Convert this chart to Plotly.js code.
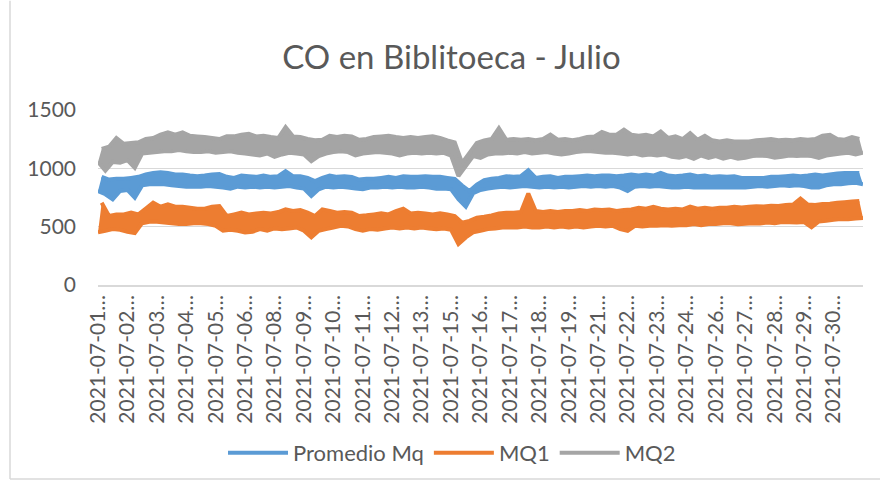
<!DOCTYPE html>
<html>
<head>
<meta charset="utf-8">
<script src="https://cdn.plot.ly/plotly-3.0.1.min.js"></script>
<style>html,body{margin:0;padding:0;background:#fff;}#chart{width:880px;height:485px;}</style>
</head>
<body>
<div id="chart"></div>
<script>
const chartTitle = 'CO en Biblitoeca - Julio';
const seriesNames = ['Promedio Mq', 'MQ1', 'MQ2'];
const tickLabels = ['2021-07-01…','2021-07-02…','2021-07-03…','2021-07-04…','2021-07-05…','2021-07-06…',
  '2021-07-08…','2021-07-09…','2021-07-10…','2021-07-11…','2021-07-12…','2021-07-13…','2021-07-15…',
  '2021-07-16…','2021-07-17…','2021-07-18…','2021-07-19…','2021-07-21…','2021-07-22…','2021-07-23…',
  '2021-07-24…','2021-07-26…','2021-07-27…','2021-07-28…','2021-07-29…','2021-07-30…'];
const pointsPerLabel = 8;
const yTicks = [0, 500, 1000, 1500];

// Readings in time order; consecutive values alternate between the low and high side of the noisy trace.
const promedioMq = [
 806,927, 778,904, 735,910, 806,910, 815,918, 749,927, 854,947, 863,961, 863,967, 863,961,
 854,947, 849,947, 843,938, 843,933, 843,938, 849,947, 843,952, 835,927, 826,918, 843,938,
 835,933, 843,927, 835,938, 843,927, 835,933, 843,975, 849,933, 835,933, 826,918, 763,890,
 820,918, 843,938, 835,927, 843,933, 835,927, 826,904, 820,910, 835,910, 835,918, 843,927,
 835,918, 843,933, 835,927, 835,927, 843,933, 835,927, 826,927, 826,918, 820,910, 735,853,
 672,805, 786,861, 815,898, 826,910, 835,918, 843,933, 835,927, 843,933, 849,984, 843,918,
 835,927, 843,933, 835,918, 843,927, 835,927, 843,933, 849,938, 843,933, 849,938, 843,938,
 849,933, 835,938, 806,947, 843,938, 849,947, 843,938, 849,961, 843,938, 835,933, 835,938,
 843,947, 835,933, 835,938, 835,927, 835,933, 835,927, 835,933, 835,918, 835,918, 843,918,
 849,918, 843,927, 849,927, 854,933, 849,938, 854,933, 849,938, 835,947, 835,938, 854,947,
 863,955, 863,961, 871,961, 877,961, 863];

const mq1 = [
 451,705, 465,591, 479,605, 473,605, 456,620, 445,605, 530,654, 542,705, 542,671, 536,691,
 530,671, 522,671, 522,662, 530,654, 530,654, 522,671, 507,677, 465,591, 473,605, 465,620,
 451,605, 456,614, 479,620, 465,614, 485,625, 479,648, 485,634, 493,642, 465,620, 408,591,
 465,648, 479,634, 493,620, 507,625, 502,620, 479,591, 465,597, 479,605, 473,614, 485,605,
 493,634, 485,654, 493,614, 485,620, 493,614, 485,605, 479,614, 485,605, 473,591, 351,534,
 408,549, 451,577, 465,586, 479,597, 485,614, 493,620, 493,620, 493,625, 502,785, 493,634,
 493,625, 502,634, 493,625, 502,634, 493,634, 502,642, 493,634, 502,648, 507,642, 502,648,
 507,634, 479,642, 465,648, 507,662, 502,654, 507,671, 507,654, 513,648, 507,654, 513,648,
 513,671, 522,654, 513,662, 522,654, 522,662, 530,662, 530,671, 520,665, 525,670, 530,675,
 527,673, 535,680, 530,677, 540,685, 537,690, 535,740, 540,690, 495,685, 545,695, 550,697,
 560,705, 565,710, 563,715, 570,720, 575];

const mq2 = [
 1054,1166, 980,1185, 1055,1260, 1048,1211, 1071,1217, 1005,1223, 1127,1251, 1133,1260, 1139,1288, 1147,1308,
 1147,1288, 1156,1308, 1147,1279, 1139,1274, 1139,1268, 1147,1260, 1133,1251, 1139,1274, 1147,1274, 1133,1288,
 1127,1297, 1119,1274, 1110,1279, 1127,1268, 1099,1260, 1119,1353, 1133,1274, 1127,1268, 1119,1251, 1062,1240,
 1105,1245, 1127,1279, 1139,1268, 1147,1279, 1139,1274, 1110,1245, 1127,1251, 1133,1268, 1139,1274, 1133,1279,
 1127,1268, 1110,1260, 1127,1268, 1133,1260, 1127,1268, 1133,1274, 1127,1260, 1133,1240, 1110,1223, 934,1046,
 1019,1132, 1105,1217, 1090,1240, 1119,1251, 1127,1345, 1127,1245, 1133,1251, 1127,1245, 1139,1251, 1127,1240,
 1133,1251, 1139,1288, 1127,1245, 1119,1251, 1127,1240, 1139,1251, 1147,1268, 1147,1274, 1139,1311, 1133,1288,
 1133,1288, 1127,1331, 1119,1288, 1127,1279, 1110,1288, 1119,1274, 1110,1316, 1119,1260, 1099,1274, 1090,1251,
 1105,1302, 1082,1245, 1110,1279, 1090,1240, 1105,1231, 1082,1240, 1099,1231, 1082,1231, 1090,1231, 1105,1240,
 1110,1245, 1105,1251, 1090,1240, 1099,1245, 1110,1240, 1105,1251, 1110,1245, 1105,1251, 1090,1279, 1110,1288,
 1119,1251, 1127,1245, 1133,1268, 1119,1251, 1133];

const colors = ['#5B9BD5', '#ED7D31', '#A5A5A5'];
const allSeries = [promedioMq, mq1, mq2];
const xIdx = promedioMq.map((_, i) => i);

// Each series is drawn as its noise band: the high-side readings and the low-side readings, filled between.
const traces = [];
allSeries.forEach((vals, k) => {
  const hiX = xIdx.filter(i => i % 2 === 1), hiY = vals.filter((_, i) => i % 2 === 1);
  const loX = xIdx.filter(i => i % 2 === 0), loY = vals.filter((_, i) => i % 2 === 0);
  traces.push({type: 'scatter', mode: 'lines', name: seriesNames[k], legendgroup: seriesNames[k],
    x: hiX, y: hiY, line: {color: colors[k], width: 4, simplify: false}, hoverinfo: 'skip'});
  traces.push({type: 'scatter', mode: 'lines', name: seriesNames[k], legendgroup: seriesNames[k], showlegend: false,
    x: loX, y: loY, fill: 'tonexty', fillcolor: colors[k],
    line: {color: colors[k], width: 4, simplify: false}, hoverinfo: 'skip'});
});

const font = 'Lato, "Open Sans", sans-serif';
const gridCol = '#d9d9d9';
const tickCol = '#595959';
const L = 98, R = 863, T = 110, B = 286, W = 880, H = 485;
const px = v => (v - L) / (R - L);
const py = v => (B - v) / (B - T);

const layout = {
  width: W, height: H,
  paper_bgcolor: '#ffffff', plot_bgcolor: '#ffffff',
  margin: {l: L, r: W - R, t: T, b: H - B, pad: 0},
  title: {text: chartTitle, font: {family: font, size: 33, color: tickCol},
          xref: 'container', yref: 'container', x: 0.513, xanchor: 'center', y: 1 - 57 / H, yanchor: 'middle'},
  xaxis: {range: [0, xIdx.length - 1], tickmode: 'array',
          tickvals: tickLabels.map((_, i) => i * pointsPerLabel), ticktext: tickLabels,
          tickangle: -90, showgrid: false, zeroline: false, showline: true,
          linecolor: gridCol, linewidth: 1.5, ticks: '',
          tickfont: {family: font, size: 21, color: tickCol}, fixedrange: true},
  yaxis: {range: [0, 1500], tickmode: 'array', tickvals: yTicks,
          gridcolor: gridCol, gridwidth: 1.5, zeroline: false, showline: false, ticks: '',
          ticklabelstandoff: 21,
          tickfont: {family: font, size: 21, color: tickCol}, fixedrange: true},
  showlegend: true,
  legend: {orientation: 'h', x: px(452), xanchor: 'center', y: py(453), yanchor: 'middle',
           itemwidth: 60, traceorder: 'normal',
           font: {family: font, size: 22, color: tickCol}, bgcolor: 'rgba(0,0,0,0)'},
  shapes: [
    {type: 'line', xref: 'paper', yref: 'paper', x0: px(10), x1: px(10), y0: py(481), y1: py(0),
     line: {color: gridCol, width: 1.5}},
    {type: 'line', xref: 'paper', yref: 'paper', x0: px(10), x1: px(880), y0: py(481), y1: py(481),
     line: {color: gridCol, width: 1.5}}
  ]
};

Plotly.newPlot('chart', traces, layout, {displayModeBar: false, staticPlot: true});
</script>
</body>
</html>
